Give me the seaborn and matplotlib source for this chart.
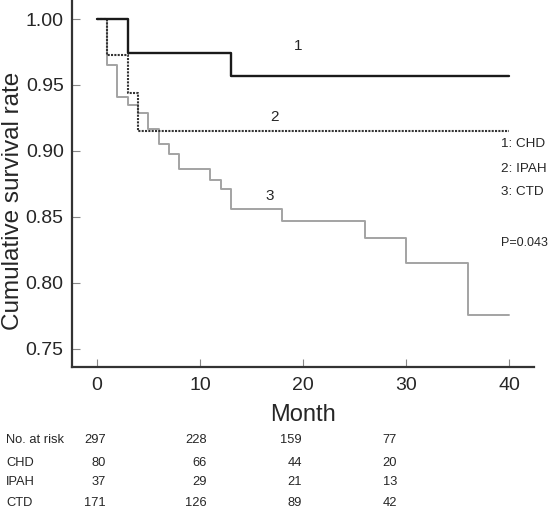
import pandas as pd
import matplotlib.pyplot as plt
import seaborn as sns

# --- Kaplan-Meier step data ---
chd_month = [0, 3, 13, 40]
chd_surv = [1.000, 0.974, 0.957, 0.957]

ipah_month = [0, 1, 3, 4, 40]
ipah_surv = [1.000, 0.973, 0.944, 0.915, 0.915]

ctd_month = [0, 1, 2, 3, 4, 5, 6, 7, 8, 11, 12, 13, 18, 26, 30, 36, 40]
ctd_surv = [1.000, 0.965, 0.941, 0.935, 0.929, 0.917, 0.905, 0.898, 0.886,
            0.878, 0.871, 0.856, 0.847, 0.834, 0.815, 0.776, 0.776]

# --- numbers at risk ---
risk_labels = ["No. at risk", "CHD", "IPAH", "CTD"]
risk_total = [297, 228, 159, 77]
risk_chd = [80, 66, 44, 20]
risk_ipah = [37, 29, 21, 13]
risk_ctd = [171, 126, 89, 42]

sns.set_style("ticks")
plt.rcParams['font.family'] = ['Liberation Sans', 'DejaVu Sans']

fig = plt.figure(figsize=(5.54, 5.11), dpi=100)
ax = fig.add_axes([0.130, 0.282, 0.834, 0.718])

df_chd = pd.DataFrame({'month': chd_month, 'surv': chd_surv})
df_ipah = pd.DataFrame({'month': ipah_month, 'surv': ipah_surv})
df_ctd = pd.DataFrame({'month': ctd_month, 'surv': ctd_surv})

sns.lineplot(data=df_ctd, x='month', y='surv', ax=ax, drawstyle='steps-post',
             color='#a3a3a3', linewidth=1.4, estimator=None)
sns.lineplot(data=df_ipah, x='month', y='surv', ax=ax, drawstyle='steps-post',
             color='#333333', linewidth=1.5, linestyle=(0, (1, 0.6)), estimator=None)
sns.lineplot(data=df_chd, x='month', y='surv', ax=ax, drawstyle='steps-post',
             color='#1a1a1a', linewidth=1.7, estimator=None)

ax.set_xlim(-2.4, 42.4)
ax.set_ylim(0.7364, 1.0144)
ax.set_xticks([0, 10, 20, 30, 40])
ax.set_yticks([0.75, 0.80, 0.85, 0.90, 0.95, 1.00])
ax.set_yticklabels(["0.75", "0.80", "0.85", "0.90", "0.95", "1.00"])
ax.tick_params(direction='in', length=5.5, width=0.8, color='#888888',
               labelsize=14, pad=6)
ax.tick_params(axis='x', pad=7)
for s in ['top', 'right']:
    ax.spines[s].set_visible(False)
for s in ['left', 'bottom']:
    ax.spines[s].set_linewidth(1.6)
    ax.spines[s].set_color('#333333')

ax.set_xlabel("Month", fontsize=17)
ax.xaxis.set_label_coords(0.5, -0.100)
ax.set_ylabel("Cumulative survival rate", fontsize=17.5)
ax.yaxis.set_label_coords(-0.103, 0.452)

# curve labels
ax.text(19.5, 0.9745, "1", fontsize=11, ha='center', va='bottom')
ax.text(17.2, 0.9205, "2", fontsize=11, ha='center', va='bottom')
ax.text(16.8, 0.8605, "3", fontsize=11, ha='center', va='bottom')

# group key and p value
ax.text(39.2, 0.9055, "1: CHD", fontsize=9.7, va='center', clip_on=False)
ax.text(39.2, 0.8865, "2: IPAH", fontsize=9.7, va='center', clip_on=False)
ax.text(39.2, 0.8688, "3: CTD", fontsize=9.7, va='center', clip_on=False)
ax.text(39.2, 0.8305, "P=0.043", fontsize=9, va='center', clip_on=False)

# number at risk table
rows = [risk_total, risk_chd, risk_ipah, risk_ctd]
row_y = [440, 463, 482, 503]
col_x = [106, 207, 302, 397]
for label, vals, yp in zip(risk_labels, rows, row_y):
    fy = 1 - yp / 511
    fig.text(6 / 554, fy, label, fontsize=9.3, va='center', ha='left')
    for v, xp in zip(vals, col_x):
        fig.text(xp / 554, fy, str(v), fontsize=9.3, va='center', ha='right')

plt.savefig("out.png", dpi=100)
